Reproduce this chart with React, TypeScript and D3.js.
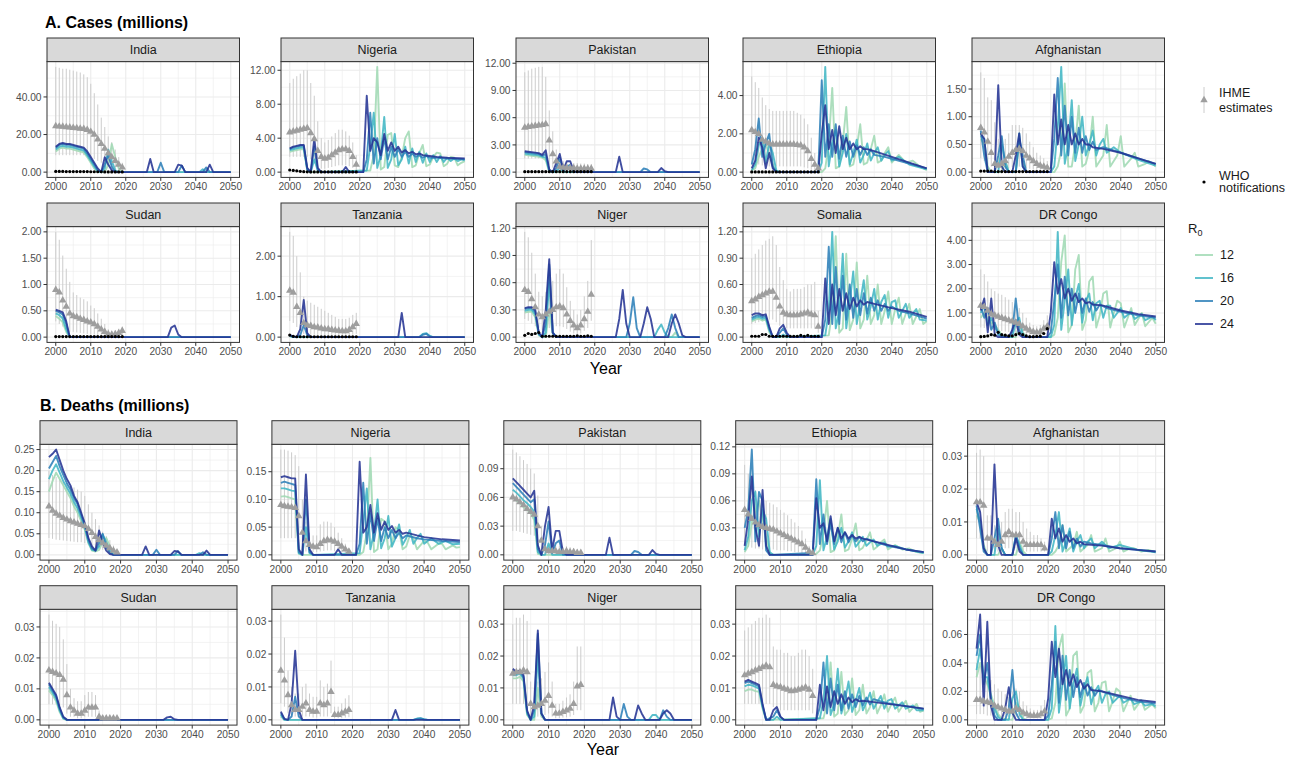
import React from 'react';
import * as d3 from 'd3';

type Pt = [number, number];
type Tri = [number, number, number];

const FONT = '"Liberation Sans", Arial, Helvetica, sans-serif';
const r0Labels = ['12', '16', '20', '24'];
const r0Colors = ['#a1dab4', '#41b6c4', '#2c7fb8', '#253494'];
const ihmeYears = [2000, 2001, 2002, 2003, 2004, 2005, 2006, 2007, 2008, 2009, 2010, 2011, 2012, 2013, 2014, 2015, 2016, 2017, 2018, 2019];
const xTicks = [2000, 2010, 2020, 2030, 2040, 2050];
const xMinor = [2005, 2015, 2025, 2035, 2045];

// ================= CASES (millions) =================
const indiaCasesTicks = [0, 20, 40];
const indiaCasesIHME: Tri[] = [[24.5,9,56],[24.3,9,55.5],[24.2,9,55],[24,9,55],[23.8,9,54.5],[23.6,9,54],[23.4,9,53.5],[23.2,9,53],[23,9,52],[22.5,8.5,50.5],[21.5,8,47],[20,7,42],[17.5,6,36],[15,5,29],[12.5,4,24],[10,3,19],[8,2.5,16],[6,1.5,12],[4,1,8],[2.5,0.5,5]];
const indiaCasesWHO = [0.4,0.4,0.4,0.3,0.3,0.3,0.3,0.3,0.3,0.3,0.2,0.2,0.2,0.2,0.1,0.1,0.1,0.1,0.1,0.1];
const indiaCasesR12: Pt[] = [[2000,11],[2001,12.5],[2002,13],[2003,12.5],[2004,12.5],[2005,12],[2006,11.5],[2007,11],[2008,10.5],[2009,8],[2010,5],[2011,2],[2012,0],[2014,0],[2015,4],[2016,15],[2017,8],[2018,2],[2019,0],[2050,0]];
const indiaCasesR16: Pt[] = [[2000,12],[2001,13.5],[2002,14],[2003,13.5],[2004,13.5],[2005,13],[2006,12.5],[2007,12],[2008,11.5],[2009,9],[2010,6],[2011,3],[2012,0.5],[2013,0],[2014,2],[2015,12],[2016,6],[2017,1],[2018,0],[2041,0],[2042,1.5],[2043,0],[2050,0]];
const indiaCasesR20: Pt[] = [[2000,13],[2001,14.5],[2002,15],[2003,14.5],[2004,14.5],[2005,14],[2006,13.5],[2007,13],[2008,12.5],[2009,10],[2010,7],[2011,4],[2012,1],[2013,0],[2014,4],[2015,9],[2016,3],[2017,0],[2029,0],[2030,5],[2031,0],[2035,0],[2036,3.5],[2037,0],[2042,0],[2043,2.5],[2044,0],[2050,0]];
const indiaCasesR24: Pt[] = [[2000,13.5],[2001,15],[2002,15.5],[2003,15],[2004,15],[2005,14.5],[2006,14],[2007,13.5],[2008,13],[2009,11],[2010,8],[2011,5],[2012,2],[2013,0],[2014,8],[2015,4],[2016,1],[2017,0],[2026,0],[2027,7],[2028,0],[2034,0],[2035,4],[2036,3.5],[2037,0],[2043,0],[2044,4],[2045,0],[2050,0]];

const nigeriaCasesTicks = [0, 4, 8, 12];
const nigeriaCasesIHME: Tri[] = [[4.7,1.8,10.5],[4.8,1.8,11],[4.9,1.8,11.3],[5.0,1.8,11.6],[5.1,1.8,12],[5.2,1.8,12],[4.6,1.5,10.5],[3.9,1,9],[2.5,0.6,6],[1.8,0.4,4],[1.6,0.4,3.5],[1.7,0.5,3.8],[2.0,0.6,4.2],[2.3,0.7,4.6],[2.6,0.8,5],[2.7,0.8,5],[2.7,0.8,4.8],[2.5,0.7,4.3],[1.8,0.5,3.5],[0.9,0.2,2]];
const nigeriaCasesWHO = [0.25,0.2,0.15,0.1,0.06,0.04,0.03,0.03,0.02,0.02,0.02,0.02,0.02,0.02,0.02,0.02,0.02,0.02,0.02,0.02];
const nigeriaCasesR12: Pt[] = [[2000,2.4],[2001,2.5],[2002,2.6],[2003,2.7],[2004,2.7],[2005,0.2],[2006,0],[2023,0.2],[2024,2],[2025,12.4],[2026,0.3],[2027,0.6],[2028,4.4],[2029,4.6],[2030,0.8],[2031,0.6],[2032,1.8],[2033,4],[2034,4.8],[2035,0.6],[2036,0.8],[2037,2.2],[2038,3.2],[2039,0.7],[2040,0.9],[2041,1.8],[2042,2.3],[2043,2.2],[2044,0.7],[2045,1.0],[2046,1.8],[2047,1.7],[2048,0.8],[2049,1.1],[2050,1.3]];
const nigeriaCasesR16: Pt[] = [[2000,2.6],[2001,2.7],[2002,2.8],[2003,2.9],[2004,2.9],[2005,0.3],[2006,0],[2007,1.5],[2008,0.2],[2009,0],[2022,0.2],[2023,3],[2024,7],[2025,0.5],[2026,2],[2027,6.5],[2028,0.5],[2029,1.5],[2030,4.5],[2031,0.8],[2032,1.5],[2033,3],[2034,1],[2035,2.8],[2036,1.2],[2037,2.4],[2038,1.1],[2039,2.2],[2040,1.2],[2041,2],[2042,1.2],[2043,1.9],[2044,1.2],[2045,1.7],[2046,1.3],[2047,1.6],[2048,1.3],[2049,1.5],[2050,1.4]];
const nigeriaCasesR20: Pt[] = [[2000,2.7],[2001,2.9],[2002,3.0],[2003,3.1],[2004,3.1],[2005,0.3],[2006,0],[2007,3],[2008,0.3],[2009,0],[2021,0],[2022,1.5],[2023,7],[2024,1],[2025,4],[2026,1.5],[2027,4],[2028,1.5],[2029,3],[2030,1.8],[2031,2.7],[2032,1.8],[2033,2.4],[2034,1.8],[2035,2.2],[2036,1.8],[2037,2.0],[2038,1.7],[2039,1.9],[2040,1.7],[2042,1.7],[2045,1.6],[2050,1.5]];
const nigeriaCasesR24: Pt[] = [[2000,2.8],[2001,3],[2002,3.1],[2003,3.2],[2004,3.2],[2005,0.5],[2006,0],[2007,4],[2008,0.5],[2009,0],[2015,0],[2016,0.6],[2017,0],[2021,0],[2022,9],[2023,2.5],[2024,4],[2025,3.5],[2026,2],[2027,4.5],[2028,2.5],[2029,3.5],[2030,2.5],[2031,3],[2032,2.3],[2033,2.6],[2034,2.2],[2035,2.4],[2036,2.1],[2037,2.2],[2038,2],[2040,1.9],[2042,1.8],[2045,1.7],[2050,1.6]];

const pakistanCasesTicks = [0, 3, 6, 9, 12];
const pakistanCasesIHME: Tri[] = [[4.9,1.5,11],[5.0,1.5,11.2],[5.05,1.5,11.4],[5.1,1.5,11.5],[5.15,1.5,11.6],[5.2,1.5,11.6],[5.3,1.3,10.5],[3.5,0.8,6.8],[2.0,0.5,4.5],[1.2,0.3,2.5],[0.6,0.15,1.5],[0.5,0.1,1.2],[0.5,0.1,1.1],[0.45,0.1,1.0],[0.45,0.1,1.0],[0.4,0.1,1.0],[0.4,0.1,0.95],[0.4,0.1,0.95],[0.4,0.1,0.9],[0.4,0.1,0.9]];
const pakistanCasesWHO = [0.05,0.05,0.05,0.05,0.05,0.05,0.05,0.05,0.05,0.05,0.05,0.05,0.05,0.05,0.05,0.05,0.05,0.05,0.05,0.05];
const pakistanCasesR12: Pt[] = [[2000,1.9],[2001,1.85],[2002,1.8],[2003,1.75],[2004,1.7],[2005,1.6],[2006,1.3],[2007,0],[2050,0]];
const pakistanCasesR16: Pt[] = [[2000,2.05],[2001,2],[2002,1.95],[2003,1.9],[2004,1.85],[2005,1.7],[2006,1.6],[2007,0.1],[2008,0],[2009,0],[2010,0.6],[2011,0],[2050,0]];
const pakistanCasesR20: Pt[] = [[2000,2.2],[2001,2.15],[2002,2.1],[2003,2.05],[2004,2.0],[2005,1.8],[2006,2],[2007,0.2],[2008,0],[2009,0.4],[2010,1.6],[2011,0.1],[2012,0.6],[2013,0.8],[2014,0],[2033,0],[2034,0.4],[2035,0.3],[2036,0],[2050,0]];
const pakistanCasesR24: Pt[] = [[2000,2.3],[2001,2.25],[2002,2.2],[2003,2.15],[2004,2.1],[2005,1.9],[2006,2.4],[2007,0.3],[2008,0],[2009,1],[2010,2],[2011,0.2],[2012,1.2],[2013,1.2],[2014,0.1],[2015,0],[2026,0],[2027,1.7],[2028,0],[2038,0],[2039,0.45],[2040,0.1],[2041,0],[2050,0]];

const ethiopiaCasesTicks = [0, 2, 4];
const ethiopiaCasesIHME: Tri[] = [[2.2,0.4,5.0],[2.1,0.4,4.7],[2.0,0.4,4.4],[1.7,0.35,3.9],[1.6,0.35,3.5],[1.5,0.3,3.3],[1.45,0.3,3.2],[1.45,0.3,3.2],[1.45,0.3,3.2],[1.45,0.3,3.2],[1.45,0.3,3.2],[1.45,0.3,3.2],[1.45,0.3,3.2],[1.42,0.3,3.1],[1.4,0.3,3.0],[1.3,0.25,2.8],[1.1,0.2,2.5],[0.7,0.12,1.8],[0.4,0.08,1.0],[0.2,0.04,0.6]];
const ethiopiaCasesWHO = [0.01,0.01,0.01,0.01,0.01,0.01,0.01,0.01,0.01,0.01,0.01,0.01,0.01,0.01,0.01,0.01,0.01,0.01,0.01,0.01];
const ethiopiaCasesR12: Pt[] = [[2000,0.1],[2001,0.2],[2002,0.8],[2003,1.2],[2004,1.5],[2005,0.9],[2006,0.4],[2007,0],[2020,0],[2021,0.2],[2022,1.5],[2023,4.4],[2024,0.2],[2025,0.3],[2026,1.5],[2027,3.4],[2028,0.3],[2029,0.4],[2030,1.3],[2031,2.5],[2032,0.4],[2033,0.5],[2034,1.2],[2035,1.9],[2036,0.5],[2037,0.6],[2038,1],[2039,1.3],[2040,0.5],[2042,0.9],[2044,0.5],[2046,0.6],[2048,0.3],[2050,0.1]];
const ethiopiaCasesR16: Pt[] = [[2000,0.1],[2001,0.4],[2002,1.4],[2003,1.7],[2004,0.5],[2005,1.5],[2006,1],[2007,0.1],[2008,0],[2019,0],[2020,0.5],[2021,5.5],[2022,0.3],[2023,1.5],[2024,2.2],[2025,0.3],[2026,1],[2027,2],[2028,0.4],[2029,1],[2030,1.7],[2031,0.5],[2032,0.9],[2033,1.5],[2034,0.6],[2035,1.0],[2036,1.3],[2037,0.6],[2038,0.9],[2039,1.1],[2040,0.6],[2042,0.8],[2045,0.4],[2050,0.15]];
const ethiopiaCasesR20: Pt[] = [[2000,0.4],[2001,1.2],[2002,2.8],[2003,0.8],[2004,1.5],[2005,2],[2006,0.3],[2007,0],[2019,0],[2020,4.8],[2021,0.8],[2022,2.5],[2023,0.8],[2024,2.5],[2025,0.7],[2026,1.9],[2027,0.8],[2028,1.6],[2029,0.8],[2030,1.4],[2031,0.9],[2032,1.3],[2033,0.9],[2034,1.2],[2035,0.9],[2038,0.8],[2040,0.7],[2045,0.45],[2050,0.2]];
const ethiopiaCasesR24: Pt[] = [[2000,0.2],[2001,0.6],[2002,1.8],[2003,1.3],[2004,0.2],[2005,1.0],[2006,0.2],[2007,0],[2019,0],[2020,2],[2021,3.5],[2022,1.2],[2023,2.2],[2024,1],[2025,2.4],[2026,1.2],[2027,1.8],[2028,1.2],[2029,1.5],[2030,1.2],[2031,1.35],[2032,1.2],[2033,1.2],[2035,1.1],[2040,0.8],[2045,0.5],[2050,0.2]];

const afghanistanCasesTicks = [0, 0.5, 1, 1.5];
const afghanistanCasesIHME: Tri[] = [[0.8,0.25,1.8],[0.72,0.2,1.7],[0.55,0.15,1.35],[0.35,0.1,1.3],[0.15,0.04,0.9],[0.12,0.03,0.6],[0.15,0.04,0.5],[0.2,0.05,0.6],[0.28,0.07,0.7],[0.35,0.09,0.85],[0.4,0.1,0.85],[0.42,0.1,0.85],[0.38,0.09,0.8],[0.3,0.07,0.7],[0.25,0.06,0.55],[0.2,0.05,0.45],[0.15,0.04,0.35],[0.12,0.03,0.3],[0.1,0.02,0.25],[0.08,0.02,0.2]];
const afghanistanCasesWHO = [0.02,0.02,0.02,0.02,0.01,0.01,0.01,0.01,0.01,0.01,0.01,0.01,0.01,0.01,0.01,0.01,0.01,0.01,0.01,0.01];
const afghanistanCasesR12: Pt[] = [[2000,0.6],[2001,0.5],[2002,0.1],[2003,0],[2006,0],[2007,0.2],[2008,0],[2010,0],[2011,0.5],[2012,0.2],[2013,0],[2021,0],[2022,0.1],[2023,0.4],[2024,1.6],[2025,0.1],[2026,0.1],[2027,0.5],[2028,1.2],[2029,0.1],[2030,0.15],[2031,0.4],[2032,1.0],[2033,0.1],[2035,0.3],[2036,0.85],[2037,0.1],[2039,0.3],[2040,0.65],[2041,0.1],[2043,0.25],[2044,0.35],[2045,0.1],[2047,0.15],[2048,0.2],[2050,0.1]];
const afghanistanCasesR16: Pt[] = [[2000,0.65],[2001,0.6],[2002,0],[2005,0],[2006,0.5],[2007,0.2],[2008,0],[2010,0],[2011,0.7],[2012,0.1],[2013,0],[2020,0],[2021,0.1],[2022,0.8],[2023,1.9],[2024,0.15],[2025,0.5],[2026,1.3],[2027,0.2],[2028,0.5],[2029,1],[2030,0.3],[2031,0.5],[2032,0.75],[2033,0.3],[2034,0.5],[2035,0.6],[2036,0.35],[2038,0.45],[2040,0.35],[2045,0.22],[2050,0.12]];
const afghanistanCasesR20: Pt[] = [[2000,0.75],[2001,0.3],[2002,0],[2004,0],[2005,0.3],[2006,0.65],[2007,0.1],[2008,0],[2010,0],[2011,0.6],[2012,0.3],[2013,0],[2020,0],[2021,0.6],[2022,1.7],[2023,0.3],[2024,1.2],[2025,0.3],[2026,1.0],[2027,0.35],[2028,0.8],[2029,0.35],[2030,0.65],[2031,0.4],[2032,0.55],[2033,0.4],[2035,0.45],[2040,0.35],[2045,0.25],[2050,0.15]];
const afghanistanCasesR24: Pt[] = [[2000,0.7],[2001,0.6],[2002,0],[2004,0],[2005,1.57],[2006,0.1],[2007,0],[2009,0],[2010,0.3],[2011,0.7],[2012,0.1],[2013,0],[2020,0],[2021,1.4],[2022,0.5],[2023,0.95],[2024,0.5],[2025,0.85],[2026,0.5],[2027,0.7],[2028,0.5],[2029,0.6],[2030,0.5],[2031,0.5],[2032,0.45],[2035,0.42],[2040,0.35],[2045,0.25],[2050,0.15]];

const sudanCasesTicks = [0, 0.5, 1, 1.5, 2];
const sudanCasesIHME: Tri[] = [[0.9,0.3,2.0],[0.85,0.25,1.85],[0.7,0.2,1.55],[0.58,0.15,1.3],[0.45,0.1,1.05],[0.4,0.1,0.85],[0.38,0.09,0.8],[0.35,0.08,0.75],[0.33,0.07,0.72],[0.3,0.06,0.68],[0.28,0.05,0.6],[0.25,0.05,0.55],[0.2,0.04,0.45],[0.15,0.03,0.35],[0.1,0.02,0.25],[0.06,0.01,0.15],[0.05,0.01,0.12],[0.06,0.01,0.13],[0.08,0.02,0.16],[0.12,0.03,0.2]];
const sudanCasesWHO = [0.01,0.01,0.01,0.01,0.01,0.01,0.01,0.01,0.01,0.01,0.01,0.01,0.01,0.01,0.01,0.01,0.01,0.01,0.01,0.01];
const sudanCasesR12: Pt[] = [[2000,0.4],[2001,0.35],[2002,0.28],[2003,0.1],[2004,0],[2050,0]];
const sudanCasesR16: Pt[] = [[2000,0.45],[2001,0.42],[2002,0.35],[2003,0.15],[2004,0],[2050,0]];
const sudanCasesR20: Pt[] = [[2000,0.5],[2001,0.47],[2002,0.43],[2003,0.25],[2004,0],[2050,0]];
const sudanCasesR24: Pt[] = [[2000,0.52],[2001,0.5],[2002,0.47],[2003,0.3],[2004,0],[2032,0],[2033,0.18],[2034,0.22],[2035,0.05],[2036,0],[2050,0]];

const tanzaniaCasesTicks = [0, 1, 2];
const tanzaniaCasesIHME: Tri[] = [[1.15,0.4,2.6],[1.1,0.35,2.5],[0.75,0.25,2.0],[0.6,0.15,1.6],[0.35,0.08,1.0],[0.3,0.07,0.9],[0.28,0.06,0.85],[0.25,0.06,0.8],[0.24,0.05,0.75],[0.22,0.05,0.7],[0.2,0.05,0.65],[0.2,0.05,0.6],[0.18,0.04,0.55],[0.17,0.04,0.5],[0.16,0.04,0.45],[0.15,0.04,0.45],[0.15,0.04,0.45],[0.18,0.05,0.48],[0.25,0.06,0.55],[0.33,0.08,0.6]];
const tanzaniaCasesWHO = [0.05,0.02,0.01,0.01,0.01,0.01,0.01,0.01,0.01,0.01,0.01,0.01,0.01,0.01,0.01,0.01,0.01,0.01,0.01,0.01];
const tanzaniaCasesR12: Pt[] = [[2000,0.02],[2001,0],[2050,0]];
const tanzaniaCasesR16: Pt[] = [[2000,0.03],[2001,0],[2037,0],[2038,0.08],[2039,0.1],[2040,0.03],[2041,0],[2050,0]];
const tanzaniaCasesR20: Pt[] = [[2000,0.04],[2001,0.01],[2002,0],[2003,0.05],[2004,0.3],[2005,0.05],[2006,0],[2037,0],[2038,0.06],[2039,0.08],[2040,0.02],[2041,0],[2050,0]];
const tanzaniaCasesR24: Pt[] = [[2000,0.05],[2001,0.02],[2002,0],[2003,0.2],[2004,0.92],[2005,0.1],[2006,0],[2031,0],[2032,0.6],[2033,0],[2050,0]];

const nigerCasesTicks = [0, 0.3, 0.6, 0.9, 1.2];
const nigerCasesIHME: Tri[] = [[0.52,0.2,1.16],[0.5,0.18,1.1],[0.42,0.15,0.93],[0.33,0.12,0.7],[0.25,0.1,0.5],[0.22,0.08,0.45],[0.25,0.1,0.5],[0.28,0.1,0.55],[0.3,0.11,0.62],[0.33,0.12,0.7],[0.34,0.12,0.75],[0.32,0.11,0.7],[0.25,0.09,0.55],[0.18,0.06,0.4],[0.13,0.04,0.3],[0.1,0.03,0.25],[0.13,0.04,0.3],[0.2,0.07,0.45],[0.28,0.1,0.62],[0.47,0.18,1.07]];
const nigerCasesWHO = [0.02,0.04,0.03,0.04,0.05,0.01,0.01,0.01,0.01,0.01,0.01,0.01,0.01,0.01,0.01,0.015,0.01,0.01,0.015,0.01];
const nigerCasesR12: Pt[] = [[2000,0.27],[2001,0.28],[2002,0.28],[2003,0.22],[2004,0.02],[2005,0],[2006,0],[2007,0.3],[2008,0.03],[2009,0],[2042,0],[2043,0.05],[2044,0],[2050,0]];
const nigerCasesR16: Pt[] = [[2000,0.29],[2001,0.3],[2002,0.3],[2003,0.25],[2004,0.03],[2005,0],[2006,0.05],[2007,0.6],[2008,0.05],[2009,0],[2037,0],[2038,0.08],[2039,0.14],[2040,0.05],[2041,0],[2050,0]];
const nigerCasesR20: Pt[] = [[2000,0.31],[2001,0.32],[2002,0.32],[2003,0.28],[2004,0.04],[2005,0],[2006,0.15],[2007,0.8],[2008,0.05],[2009,0],[2029,0],[2030,0.15],[2031,0.44],[2032,0.1],[2033,0],[2040,0],[2041,0.1],[2042,0.25],[2043,0.1],[2044,0],[2050,0]];
const nigerCasesR24: Pt[] = [[2000,0.32],[2001,0.33],[2002,0.33],[2003,0.3],[2004,0.05],[2005,0],[2006,0.3],[2007,0.86],[2008,0.05],[2009,0],[2026,0],[2027,0.2],[2028,0.52],[2029,0.15],[2030,0],[2033,0],[2034,0.15],[2035,0.33],[2036,0.2],[2037,0],[2041,0],[2042,0.15],[2043,0.25],[2044,0.15],[2045,0.02],[2046,0],[2050,0]];

const somaliaCasesTicks = [0, 0.3, 0.6, 0.9, 1.2];
const somaliaCasesIHME: Tri[] = [[0.41,0.15,0.9],[0.43,0.16,0.95],[0.46,0.17,1.0],[0.48,0.18,1.05],[0.5,0.19,1.1],[0.52,0.2,1.12],[0.52,0.2,1.15],[0.45,0.17,1.05],[0.35,0.13,0.8],[0.28,0.1,0.65],[0.26,0.1,0.55],[0.25,0.1,0.52],[0.25,0.1,0.55],[0.25,0.1,0.55],[0.26,0.1,0.55],[0.27,0.1,0.57],[0.28,0.1,0.6],[0.26,0.1,0.6],[0.25,0.1,0.63],[0.12,0.05,0.3]];
const somaliaCasesWHO = [0.01,0.01,0.01,0.03,0.03,0.01,0.01,0.01,0.01,0.01,0.01,0.01,0.01,0.01,0.02,0.01,0.02,0.01,0.01,0.01];
const somaliaCasesR12: Pt[] = [[2000,0.18],[2001,0.2],[2002,0.21],[2003,0.19],[2004,0.2],[2005,0.06],[2006,0],[2022,0.02],[2023,0.3],[2024,1.15],[2025,0.05],[2026,0.1],[2027,0.95],[2028,0.08],[2029,0.2],[2030,0.85],[2031,0.1],[2032,0.2],[2033,0.7],[2034,0.15],[2035,0.25],[2036,0.6],[2037,0.15],[2038,0.3],[2039,0.52],[2040,0.15],[2041,0.32],[2042,0.45],[2043,0.15],[2045,0.38],[2046,0.15],[2048,0.32],[2049,0.15],[2050,0.18]];
const somaliaCasesR16: Pt[] = [[2000,0.2],[2001,0.22],[2002,0.23],[2003,0.21],[2004,0.22],[2005,0.08],[2006,0],[2008,0],[2009,0.03],[2010,0],[2021,0.02],[2022,0.3],[2023,1.2],[2024,0.1],[2025,0.3],[2026,0.95],[2027,0.1],[2028,0.4],[2029,0.75],[2030,0.15],[2031,0.4],[2032,0.65],[2033,0.2],[2034,0.35],[2035,0.55],[2036,0.2],[2037,0.4],[2038,0.48],[2039,0.22],[2040,0.4],[2041,0.42],[2042,0.22],[2044,0.38],[2045,0.22],[2047,0.32],[2048,0.2],[2050,0.19]];
const somaliaCasesR20: Pt[] = [[2000,0.22],[2001,0.24],[2002,0.25],[2003,0.23],[2004,0.24],[2005,0.1],[2006,0],[2007,0],[2008,0.05],[2009,0.1],[2010,0.03],[2011,0],[2020,0],[2021,0.2],[2022,1.03],[2023,0.15],[2024,0.8],[2025,0.15],[2026,0.7],[2027,0.2],[2028,0.6],[2029,0.22],[2030,0.55],[2031,0.25],[2032,0.5],[2033,0.27],[2034,0.45],[2035,0.3],[2036,0.42],[2037,0.3],[2038,0.38],[2039,0.3],[2040,0.35],[2042,0.3],[2045,0.27],[2050,0.21]];
const somaliaCasesR24: Pt[] = [[2000,0.25],[2001,0.27],[2002,0.27],[2003,0.25],[2004,0.26],[2005,0.12],[2006,0],[2007,0],[2008,0.1],[2009,0.14],[2010,0.05],[2011,0],[2020,0],[2021,0.67],[2022,0.15],[2023,0.6],[2024,0.25],[2025,0.55],[2026,0.3],[2027,0.5],[2028,0.32],[2029,0.45],[2030,0.35],[2031,0.42],[2032,0.37],[2033,0.4],[2035,0.38],[2040,0.33],[2045,0.29],[2050,0.23]];

const drcCasesTicks = [0, 1, 2, 3, 4];
const drcCasesIHME: Tri[] = [[1.3,0.4,2.8],[1.25,0.38,2.6],[1.1,0.35,2.3],[0.95,0.3,2.0],[0.9,0.28,1.9],[0.85,0.26,1.8],[0.8,0.25,1.75],[0.75,0.23,1.65],[0.7,0.21,1.55],[0.65,0.2,1.45],[0.6,0.18,1.35],[0.55,0.16,1.2],[0.45,0.13,1.0],[0.35,0.1,0.8],[0.28,0.08,0.6],[0.22,0.06,0.5],[0.2,0.06,0.45],[0.22,0.06,0.5],[0.35,0.1,0.7],[0.45,0.13,0.9]];
const drcCasesWHO = [0.02,0.03,0.05,0.1,0.08,0.2,0.1,0.08,0.05,0.05,0.1,0.15,0.1,0.05,0.02,0.02,0.03,0.04,0.15,0.35];
const drcCasesR12: Pt[] = [[2000,0.8],[2001,1.0],[2002,0.7],[2003,0.6],[2004,0.5],[2005,0.3],[2006,0.1],[2007,0],[2010,0],[2011,0.5],[2012,0.2],[2013,0],[2020,0],[2021,0.1],[2022,0.8],[2023,3.1],[2024,4.2],[2025,0.2],[2026,0.5],[2027,2.8],[2028,3.4],[2029,0.3],[2030,0.7],[2031,2.3],[2032,2.5],[2033,0.4],[2034,0.9],[2035,1.8],[2036,1.9],[2037,0.4],[2038,1.0],[2039,1.5],[2040,1.4],[2041,0.4],[2043,1.2],[2044,0.5],[2046,1.0],[2047,0.45],[2049,0.8],[2050,0.55]];
const drcCasesR16: Pt[] = [[2000,1.0],[2001,1.3],[2002,0.5],[2003,0.8],[2004,0.4],[2005,0.2],[2006,0.05],[2007,0],[2009,0],[2010,0.6],[2011,0.8],[2012,0.1],[2013,0],[2020,0],[2021,0.5],[2022,4.35],[2023,0.3],[2024,1.5],[2025,2.8],[2026,0.5],[2027,1.6],[2028,2.2],[2029,0.6],[2030,1.5],[2031,1.8],[2032,0.7],[2033,1.4],[2034,1.5],[2035,0.8],[2036,1.3],[2037,1.3],[2038,0.8],[2040,1.2],[2041,0.8],[2043,1.05],[2044,0.75],[2046,0.95],[2047,0.7],[2049,0.85],[2050,0.7]];
const drcCasesR20: Pt[] = [[2000,1.3],[2001,0.8],[2002,1.2],[2003,0.3],[2004,0.6],[2005,0.1],[2006,0],[2008,0],[2009,0.2],[2010,1.6],[2011,0.3],[2012,0],[2019,0],[2020,0.2],[2021,1.5],[2022,3.0],[2023,0.8],[2024,2.5],[2025,0.9],[2026,2.0],[2027,1.0],[2028,1.8],[2029,1.0],[2030,1.6],[2031,1.05],[2032,1.45],[2033,1.1],[2034,1.35],[2036,1.2],[2040,1.05],[2045,0.9],[2050,0.8]];
const drcCasesR24: Pt[] = [[2000,1.1],[2001,1.6],[2002,0.2],[2003,1.6],[2004,0.1],[2005,0],[2008,0],[2009,0.3],[2010,0.7],[2011,0.1],[2012,0],[2019,0],[2020,1],[2021,3.1],[2022,1.8],[2023,2.4],[2024,1.6],[2025,2],[2026,1.5],[2027,1.8],[2028,1.45],[2029,1.6],[2030,1.4],[2031,1.45],[2032,1.35],[2035,1.3],[2040,1.1],[2045,0.95],[2050,0.85]];

// ================= DEATHS (millions) =================
const indiaDeathsTicks = [0, 0.05, 0.1, 0.15, 0.2, 0.25];
const indiaDeathsIHME: Tri[] = [[0.115,0.04,0.2],[0.105,0.038,0.19],[0.098,0.036,0.185],[0.093,0.035,0.18],[0.088,0.034,0.175],[0.084,0.033,0.17],[0.08,0.032,0.165],[0.077,0.031,0.16],[0.074,0.03,0.155],[0.071,0.03,0.15],[0.068,0.028,0.14],[0.062,0.025,0.12],[0.052,0.02,0.1],[0.043,0.017,0.085],[0.035,0.014,0.07],[0.028,0.012,0.055],[0.022,0.009,0.045],[0.016,0.006,0.035],[0.01,0.004,0.022],[0.006,0.002,0.013]];
const indiaDeathsR12: Pt[] = [[2000,0.15],[2001,0.175],[2002,0.195],[2003,0.18],[2004,0.165],[2005,0.15],[2006,0.135],[2007,0.115],[2008,0.1],[2009,0.08],[2010,0.06],[2011,0.028],[2012,0.01],[2013,0.008],[2014,0.012],[2015,0.03],[2016,0.04],[2017,0.02],[2018,0.005],[2019,0],[2050,0]];
const indiaDeathsR16: Pt[] = [[2000,0.18],[2001,0.2],[2002,0.215],[2003,0.195],[2004,0.175],[2005,0.16],[2006,0.145],[2007,0.125],[2008,0.11],[2009,0.088],[2010,0.065],[2011,0.03],[2012,0.012],[2013,0.01],[2014,0.02],[2015,0.048],[2016,0.03],[2017,0.01],[2018,0],[2041,0],[2042,0.004],[2043,0],[2050,0]];
const indiaDeathsR20: Pt[] = [[2000,0.205],[2001,0.22],[2002,0.235],[2003,0.21],[2004,0.19],[2005,0.17],[2006,0.155],[2007,0.135],[2008,0.12],[2009,0.095],[2010,0.07],[2011,0.035],[2012,0.015],[2013,0.01],[2014,0.03],[2015,0.05],[2016,0.02],[2017,0.005],[2018,0],[2029,0],[2030,0.012],[2031,0],[2035,0],[2036,0.009],[2037,0],[2042,0],[2043,0.006],[2044,0],[2050,0]];
const indiaDeathsR24: Pt[] = [[2000,0.232],[2001,0.24],[2002,0.25],[2003,0.225],[2004,0.2],[2005,0.18],[2006,0.165],[2007,0.14],[2008,0.125],[2009,0.1],[2010,0.075],[2011,0.04],[2012,0.02],[2013,0.01],[2014,0.058],[2015,0.03],[2016,0.01],[2017,0.002],[2018,0],[2026,0],[2027,0.02],[2028,0],[2034,0],[2035,0.009],[2036,0.008],[2037,0],[2043,0],[2044,0.01],[2045,0],[2050,0]];

const nigeriaDeathsTicks = [0, 0.05, 0.1, 0.15];
const nigeriaDeathsIHME: Tri[] = [[0.09,0.03,0.19],[0.088,0.03,0.19],[0.087,0.03,0.188],[0.086,0.03,0.185],[0.085,0.03,0.18],[0.07,0.02,0.16],[0.04,0.01,0.1],[0.025,0.006,0.06],[0.018,0.005,0.04],[0.015,0.005,0.035],[0.014,0.005,0.035],[0.02,0.006,0.055],[0.025,0.007,0.06],[0.027,0.008,0.06],[0.026,0.008,0.058],[0.024,0.007,0.05],[0.02,0.006,0.04],[0.015,0.005,0.03],[0.01,0.003,0.02],[0.006,0.002,0.012]];
const nigeriaDeathsR12: Pt[] = [[2000,0.105],[2001,0.106],[2002,0.104],[2003,0.102],[2004,0.1],[2005,0.002],[2006,0],[2022,0],[2023,0.005],[2024,0.04],[2025,0.175],[2026,0.005],[2027,0.01],[2028,0.065],[2029,0.06],[2030,0.01],[2031,0.02],[2032,0.05],[2033,0.045],[2034,0.01],[2035,0.015],[2036,0.035],[2037,0.03],[2038,0.01],[2040,0.025],[2041,0.022],[2042,0.01],[2044,0.02],[2045,0.02],[2046,0.01],[2048,0.017],[2049,0.013],[2050,0.014]];
const nigeriaDeathsR16: Pt[] = [[2000,0.12],[2001,0.12],[2002,0.118],[2003,0.116],[2004,0.115],[2005,0.003],[2006,0],[2007,0.05],[2008,0.003],[2009,0],[2022,0.003],[2023,0.06],[2024,0.12],[2025,0.01],[2026,0.04],[2027,0.1],[2028,0.012],[2029,0.03],[2030,0.07],[2031,0.015],[2032,0.03],[2033,0.055],[2034,0.018],[2035,0.03],[2036,0.045],[2037,0.02],[2038,0.03],[2039,0.038],[2040,0.02],[2042,0.03],[2044,0.02],[2046,0.025],[2048,0.019],[2050,0.02]];
const nigeriaDeathsR20: Pt[] = [[2000,0.13],[2001,0.132],[2002,0.13],[2003,0.128],[2004,0.126],[2005,0.005],[2006,0],[2007,0.1],[2008,0.005],[2009,0],[2021,0],[2022,0.02],[2023,0.13],[2024,0.02],[2025,0.075],[2026,0.025],[2027,0.065],[2028,0.025],[2029,0.05],[2030,0.03],[2031,0.045],[2032,0.03],[2033,0.04],[2034,0.03],[2035,0.035],[2038,0.03],[2040,0.028],[2045,0.025],[2050,0.023]];
const nigeriaDeathsR24: Pt[] = [[2000,0.14],[2001,0.142],[2002,0.14],[2003,0.138],[2004,0.138],[2005,0.01],[2006,0],[2007,0.145],[2008,0.01],[2009,0],[2015,0],[2016,0.01],[2017,0],[2021,0],[2022,0.168],[2023,0.04],[2024,0.05],[2025,0.09],[2026,0.04],[2027,0.075],[2028,0.045],[2029,0.06],[2030,0.045],[2031,0.052],[2032,0.04],[2033,0.045],[2034,0.038],[2035,0.04],[2038,0.035],[2040,0.032],[2045,0.028],[2050,0.026]];

const pakistanDeathsTicks = [0, 0.03, 0.06, 0.09];
const pakistanDeathsIHME: Tri[] = [[0.06,0.025,0.11],[0.058,0.025,0.107],[0.055,0.024,0.103],[0.052,0.023,0.099],[0.048,0.022,0.095],[0.045,0.021,0.09],[0.042,0.02,0.085],[0.03,0.012,0.062],[0.015,0.005,0.03],[0.006,0.002,0.014],[0.004,0.001,0.01],[0.004,0.001,0.01],[0.004,0.001,0.01],[0.003,0.001,0.009],[0.003,0.001,0.008],[0.004,0.001,0.009],[0.003,0.001,0.008],[0.003,0.001,0.007],[0.002,0.001,0.006],[0.002,0.001,0.005]];
const pakistanDeathsR12: Pt[] = [[2000,0.06],[2001,0.057],[2002,0.054],[2003,0.05],[2004,0.047],[2005,0.044],[2006,0.036],[2007,0.001],[2008,0],[2050,0]];
const pakistanDeathsR16: Pt[] = [[2000,0.068],[2001,0.065],[2002,0.061],[2003,0.057],[2004,0.054],[2005,0.05],[2006,0.045],[2007,0.003],[2008,0],[2009,0],[2010,0.012],[2011,0],[2050,0]];
const pakistanDeathsR20: Pt[] = [[2000,0.075],[2001,0.071],[2002,0.067],[2003,0.063],[2004,0.059],[2005,0.055],[2006,0.058],[2007,0.006],[2008,0],[2009,0.01],[2010,0.035],[2011,0.002],[2012,0.012],[2013,0.015],[2014,0],[2033,0],[2034,0.004],[2035,0.003],[2036,0],[2050,0]];
const pakistanDeathsR24: Pt[] = [[2000,0.08],[2001,0.076],[2002,0.072],[2003,0.068],[2004,0.064],[2005,0.06],[2006,0.067],[2007,0.01],[2008,0],[2009,0.03],[2010,0.05],[2011,0.005],[2012,0.025],[2013,0.025],[2014,0.003],[2015,0],[2026,0],[2027,0.018],[2028,0],[2038,0],[2039,0.005],[2040,0.001],[2041,0],[2050,0]];

const ethiopiaDeathsTicks = [0, 0.03, 0.06, 0.09, 0.12];
const ethiopiaDeathsIHME: Tri[] = [[0.05,0.01,0.1],[0.045,0.009,0.09],[0.04,0.008,0.082],[0.036,0.007,0.072],[0.033,0.007,0.065],[0.031,0.006,0.062],[0.03,0.006,0.06],[0.029,0.006,0.058],[0.028,0.006,0.056],[0.026,0.005,0.053],[0.024,0.005,0.05],[0.022,0.005,0.047],[0.02,0.004,0.044],[0.018,0.004,0.04],[0.016,0.003,0.036],[0.014,0.003,0.032],[0.012,0.002,0.027],[0.008,0.002,0.018],[0.004,0.001,0.01],[0.002,0.001,0.005]];
const ethiopiaDeathsR12: Pt[] = [[2000,0.003],[2001,0.01],[2002,0.035],[2003,0.05],[2004,0.06],[2005,0.04],[2006,0.02],[2007,0.002],[2008,0],[2020,0.001],[2021,0.005],[2022,0.025],[2023,0.06],[2024,0.003],[2025,0.005],[2026,0.02],[2027,0.045],[2028,0.004],[2029,0.006],[2030,0.018],[2031,0.035],[2032,0.005],[2033,0.008],[2034,0.016],[2035,0.025],[2036,0.006],[2037,0.009],[2038,0.014],[2039,0.017],[2040,0.006],[2042,0.011],[2044,0.006],[2046,0.007],[2048,0.003],[2050,0.002]];
const ethiopiaDeathsR16: Pt[] = [[2000,0.005],[2001,0.02],[2002,0.06],[2003,0.07],[2004,0.02],[2005,0.05],[2006,0.04],[2007,0.003],[2008,0],[2019,0],[2020,0.01],[2021,0.083],[2022,0.005],[2023,0.02],[2024,0.04],[2025,0.006],[2026,0.015],[2027,0.03],[2028,0.008],[2029,0.015],[2030,0.025],[2031,0.009],[2032,0.014],[2033,0.02],[2034,0.01],[2035,0.014],[2036,0.017],[2037,0.01],[2039,0.014],[2040,0.009],[2042,0.01],[2045,0.006],[2050,0.002]];
const ethiopiaDeathsR20: Pt[] = [[2000,0.03],[2001,0.05],[2002,0.117],[2003,0.015],[2004,0.07],[2005,0.06],[2006,0.005],[2007,0],[2019,0.002],[2020,0.084],[2021,0.012],[2022,0.045],[2023,0.012],[2024,0.035],[2025,0.012],[2026,0.03],[2027,0.014],[2028,0.025],[2029,0.014],[2030,0.022],[2031,0.015],[2032,0.02],[2033,0.015],[2034,0.018],[2036,0.015],[2040,0.01],[2045,0.006],[2050,0.003]];
const ethiopiaDeathsR24: Pt[] = [[2000,0.01],[2001,0.04],[2002,0.087],[2003,0.03],[2004,0.01],[2005,0.072],[2006,0.01],[2007,0],[2019,0],[2020,0.063],[2021,0.03],[2022,0.035],[2023,0.015],[2024,0.043],[2025,0.015],[2026,0.03],[2027,0.018],[2028,0.025],[2029,0.018],[2030,0.022],[2031,0.018],[2032,0.02],[2033,0.018],[2035,0.016],[2040,0.011],[2045,0.006],[2050,0.003]];

const afghanistanDeathsTicks = [0, 0.01, 0.02, 0.03];
const afghanistanDeathsIHME: Tri[] = [[0.016,0.005,0.031],[0.016,0.005,0.032],[0.015,0.005,0.03],[0.005,0.001,0.012],[0.005,0.001,0.012],[0.004,0.001,0.009],[0.003,0.001,0.009],[0.004,0.001,0.01],[0.006,0.002,0.013],[0.007,0.002,0.014],[0.006,0.002,0.014],[0.006,0.002,0.013],[0.006,0.002,0.013],[0.004,0.001,0.01],[0.003,0.001,0.008],[0.003,0.001,0.007],[0.003,0.001,0.006],[0.003,0.001,0.006],[0.003,0.001,0.005],[0.002,0.001,0.004]];
const afghanistanDeathsR12: Pt[] = [[2000,0.012],[2001,0.01],[2002,0.003],[2003,0],[2006,0],[2007,0.002],[2008,0],[2011,0],[2012,0.004],[2013,0.001],[2014,0],[2021,0],[2022,0.001],[2023,0.003],[2024,0.009],[2025,0.001],[2027,0.003],[2028,0.007],[2029,0.001],[2031,0.003],[2032,0.006],[2033,0.001],[2035,0.002],[2036,0.005],[2037,0.001],[2039,0.002],[2040,0.004],[2041,0.001],[2043,0.002],[2044,0.002],[2046,0.001],[2048,0.0015],[2050,0.0008]];
const afghanistanDeathsR16: Pt[] = [[2000,0.014],[2001,0.01],[2002,0.002],[2003,0],[2005,0],[2006,0.008],[2007,0.002],[2008,0],[2010,0],[2011,0.006],[2012,0.003],[2013,0],[2020,0],[2021,0.001],[2022,0.006],[2023,0.013],[2024,0.001],[2025,0.004],[2026,0.008],[2027,0.001],[2028,0.004],[2029,0.006],[2030,0.002],[2031,0.004],[2032,0.005],[2033,0.002],[2035,0.004],[2037,0.002],[2040,0.003],[2045,0.0015],[2050,0.0008]];
const afghanistanDeathsR20: Pt[] = [[2000,0.015],[2001,0.008],[2002,0.001],[2003,0],[2004,0],[2005,0.005],[2006,0.011],[2007,0.002],[2008,0],[2010,0],[2011,0.006],[2012,0.002],[2013,0],[2020,0],[2021,0.005],[2022,0.013],[2023,0.002],[2024,0.009],[2025,0.002],[2026,0.007],[2027,0.002],[2028,0.005],[2029,0.0025],[2030,0.004],[2032,0.0035],[2035,0.003],[2040,0.002],[2045,0.0015],[2050,0.001]];
const afghanistanDeathsR24: Pt[] = [[2000,0.016],[2001,0.013],[2002,0.002],[2003,0],[2004,0],[2005,0.0275],[2006,0.003],[2007,0],[2010,0],[2011,0.005],[2012,0.001],[2013,0],[2020,0],[2021,0.011],[2022,0.005],[2023,0.008],[2024,0.004],[2025,0.006],[2026,0.004],[2027,0.005],[2028,0.0035],[2029,0.004],[2030,0.0032],[2035,0.0028],[2040,0.002],[2045,0.0015],[2050,0.001]];

const sudanDeathsTicks = [0, 0.01, 0.02, 0.03];
const sudanDeathsIHME: Tri[] = [[0.016,0.005,0.034],[0.0155,0.005,0.032],[0.015,0.005,0.031],[0.0145,0.004,0.03],[0.013,0.004,0.026],[0.008,0.002,0.018],[0.004,0.001,0.01],[0.003,0.001,0.007],[0.002,0.0005,0.006],[0.002,0.0005,0.006],[0.003,0.001,0.008],[0.004,0.001,0.009],[0.004,0.001,0.009],[0.004,0.001,0.008],[0.001,0.0003,0.003],[0.0005,0.0002,0.0015],[0.0005,0.0002,0.0015],[0.0005,0.0002,0.0012],[0.0005,0.0002,0.0012],[0.0005,0.0002,0.001]];
const sudanDeathsR12: Pt[] = [[2000,0.0095],[2001,0.008],[2002,0.006],[2003,0.0025],[2004,0.0003],[2005,0],[2050,0]];
const sudanDeathsR16: Pt[] = [[2000,0.0105],[2001,0.0088],[2002,0.0068],[2003,0.003],[2004,0.0005],[2005,0],[2050,0]];
const sudanDeathsR20: Pt[] = [[2000,0.0115],[2001,0.0095],[2002,0.0075],[2003,0.0035],[2004,0.0008],[2005,0],[2050,0]];
const sudanDeathsR24: Pt[] = [[2000,0.012],[2001,0.01],[2002,0.008],[2003,0.004],[2004,0.001],[2005,0],[2032,0],[2033,0.0008],[2034,0.001],[2035,0.0002],[2036,0],[2050,0]];

const tanzaniaDeathsTicks = [0, 0.01, 0.02, 0.03];
const tanzaniaDeathsIHME: Tri[] = [[0.015,0.005,0.032],[0.012,0.004,0.025],[0.0075,0.002,0.015],[0.0045,0.001,0.01],[0.003,0.001,0.008],[0.003,0.001,0.008],[0.004,0.001,0.01],[0.005,0.001,0.011],[0.003,0.001,0.008],[0.0025,0.0007,0.007],[0.0025,0.0007,0.007],[0.005,0.001,0.012],[0.0045,0.001,0.01],[0.005,0.001,0.011],[0.0085,0.002,0.018],[0.0015,0.0005,0.004],[0.0015,0.0005,0.004],[0.002,0.0005,0.005],[0.0025,0.0007,0.0065],[0.003,0.0008,0.0075]];
const tanzaniaDeathsR12: Pt[] = [[2000,0.001],[2001,0],[2050,0]];
const tanzaniaDeathsR16: Pt[] = [[2000,0.0015],[2001,0],[2037,0],[2038,0.0004],[2039,0.0005],[2040,0.0002],[2041,0],[2050,0]];
const tanzaniaDeathsR20: Pt[] = [[2000,0.002],[2001,0.0002],[2002,0],[2003,0.001],[2004,0.007],[2005,0.001],[2006,0],[2037,0],[2038,0.0003],[2039,0.0004],[2040,0.0001],[2041,0],[2050,0]];
const tanzaniaDeathsR24: Pt[] = [[2000,0.0025],[2001,0.0003],[2002,0],[2003,0.005],[2004,0.021],[2005,0.003],[2006,0],[2031,0],[2032,0.003],[2033,0],[2050,0]];

const nigerDeathsTicks = [0, 0.01, 0.02, 0.03];
const nigerDeathsIHME: Tri[] = [[0.0145,0.005,0.03],[0.015,0.005,0.032],[0.015,0.005,0.032],[0.0155,0.005,0.033],[0.015,0.005,0.031],[0.005,0.001,0.012],[0.004,0.001,0.01],[0.0045,0.001,0.012],[0.005,0.0015,0.013],[0.006,0.0015,0.015],[0.0075,0.002,0.018],[0.0045,0.001,0.012],[0.002,0.0005,0.005],[0.002,0.0005,0.005],[0.0025,0.0007,0.006],[0.003,0.0008,0.007],[0.0035,0.001,0.008],[0.005,0.0015,0.012],[0.0105,0.003,0.023],[0.011,0.003,0.023]];
const nigerDeathsR12: Pt[] = [[2000,0.013],[2001,0.013],[2002,0.0135],[2003,0.012],[2004,0.0015],[2005,0],[2006,0],[2007,0.01],[2008,0.001],[2009,0],[2050,0]];
const nigerDeathsR16: Pt[] = [[2000,0.014],[2001,0.014],[2002,0.0145],[2003,0.013],[2004,0.002],[2005,0],[2006,0.001],[2007,0.02],[2008,0.002],[2009,0],[2038,0],[2039,0.0015],[2040,0.0015],[2041,0],[2050,0]];
const nigerDeathsR20: Pt[] = [[2000,0.0155],[2001,0.0145],[2002,0.015],[2003,0.0135],[2004,0.0025],[2005,0],[2006,0.003],[2007,0.027],[2008,0.002],[2009,0],[2030,0],[2031,0.005],[2032,0.001],[2033,0],[2041,0],[2042,0.003],[2043,0.001],[2044,0],[2050,0]];
const nigerDeathsR24: Pt[] = [[2000,0.016],[2001,0.015],[2002,0.0155],[2003,0.014],[2004,0.003],[2005,0],[2006,0.005],[2007,0.028],[2008,0.002],[2009,0],[2027,0],[2028,0.007],[2029,0.001],[2030,0],[2034,0],[2035,0.0045],[2036,0.002],[2037,0],[2041,0],[2042,0.002],[2043,0.003],[2044,0.002],[2045,0],[2050,0]];

const somaliaDeathsTicks = [0, 0.01, 0.02, 0.03];
const somaliaDeathsIHME: Tri[] = [[0.014,0.005,0.028],[0.0145,0.005,0.029],[0.015,0.005,0.03],[0.0155,0.005,0.031],[0.016,0.005,0.032],[0.0165,0.005,0.032],[0.017,0.005,0.033],[0.0165,0.005,0.032],[0.011,0.004,0.023],[0.0105,0.003,0.022],[0.0103,0.003,0.022],[0.0098,0.003,0.021],[0.0095,0.003,0.021],[0.009,0.003,0.02],[0.0092,0.003,0.02],[0.0095,0.003,0.021],[0.0098,0.003,0.022],[0.0102,0.003,0.022],[0.0095,0.003,0.02],[0.0075,0.002,0.016]];
const somaliaDeathsR12: Pt[] = [[2000,0.009],[2001,0.0095],[2002,0.0095],[2003,0.009],[2004,0.0088],[2005,0.0035],[2006,0],[2022,0.0005],[2023,0.005],[2024,0.018],[2025,0.001],[2026,0.002],[2027,0.015],[2028,0.0015],[2029,0.003],[2030,0.013],[2031,0.0015],[2032,0.003],[2033,0.011],[2034,0.002],[2035,0.004],[2036,0.009],[2037,0.002],[2038,0.0045],[2039,0.008],[2040,0.0025],[2041,0.005],[2042,0.007],[2043,0.0025],[2045,0.006],[2046,0.0025],[2048,0.005],[2049,0.0025],[2050,0.003]];
const somaliaDeathsR16: Pt[] = [[2000,0.0105],[2001,0.011],[2002,0.0108],[2003,0.0103],[2004,0.0098],[2005,0.004],[2006,0],[2008,0],[2009,0.001],[2010,0],[2021,0.0005],[2022,0.006],[2023,0.02],[2024,0.0015],[2025,0.005],[2026,0.016],[2027,0.002],[2028,0.006],[2029,0.012],[2030,0.0025],[2031,0.006],[2032,0.01],[2033,0.003],[2034,0.0055],[2035,0.0085],[2036,0.0035],[2037,0.0055],[2038,0.0075],[2039,0.0035],[2040,0.006],[2041,0.0065],[2042,0.0035],[2044,0.0055],[2045,0.0035],[2047,0.0045],[2048,0.003],[2050,0.003]];
const somaliaDeathsR20: Pt[] = [[2000,0.0115],[2001,0.012],[2002,0.0115],[2003,0.011],[2004,0.0105],[2005,0.0045],[2006,0],[2008,0.001],[2009,0.003],[2010,0.0008],[2011,0],[2020,0],[2021,0.004],[2022,0.018],[2023,0.002],[2024,0.013],[2025,0.003],[2026,0.011],[2027,0.003],[2028,0.009],[2029,0.0035],[2030,0.008],[2031,0.004],[2032,0.0075],[2033,0.0045],[2034,0.007],[2035,0.0048],[2036,0.0065],[2038,0.0058],[2040,0.0052],[2045,0.0043],[2050,0.0034]];
const somaliaDeathsR24: Pt[] = [[2000,0.012],[2001,0.0125],[2002,0.012],[2003,0.0115],[2004,0.011],[2005,0.005],[2006,0],[2007,0],[2008,0.003],[2009,0.004],[2010,0.001],[2011,0],[2020,0],[2021,0.011],[2022,0.003],[2023,0.0105],[2024,0.004],[2025,0.009],[2026,0.005],[2027,0.008],[2028,0.005],[2029,0.007],[2030,0.0055],[2031,0.0065],[2032,0.0058],[2033,0.006],[2035,0.0057],[2040,0.005],[2045,0.0043],[2050,0.0035]];

const drcDeathsTicks = [0, 0.02, 0.04, 0.06];
const drcDeathsIHME: Tri[] = [[0.014,0.004,0.04],[0.014,0.004,0.038],[0.013,0.004,0.035],[0.0125,0.003,0.03],[0.012,0.003,0.028],[0.01,0.003,0.025],[0.009,0.002,0.022],[0.008,0.002,0.02],[0.007,0.002,0.018],[0.006,0.002,0.016],[0.006,0.002,0.02],[0.008,0.002,0.022],[0.007,0.002,0.02],[0.005,0.001,0.013],[0.004,0.001,0.01],[0.003,0.001,0.008],[0.003,0.001,0.007],[0.003,0.001,0.007],[0.004,0.001,0.01],[0.006,0.002,0.014]];
const drcDeathsR12: Pt[] = [[2000,0.03],[2001,0.04],[2002,0.03],[2003,0.025],[2004,0.018],[2005,0.01],[2006,0.004],[2007,0.001],[2010,0],[2011,0.012],[2012,0.008],[2013,0.001],[2014,0],[2020,0],[2021,0.001],[2022,0.012],[2023,0.05],[2024,0.06],[2025,0.003],[2026,0.008],[2027,0.045],[2028,0.048],[2029,0.005],[2030,0.01],[2031,0.033],[2032,0.035],[2033,0.006],[2034,0.012],[2035,0.026],[2036,0.027],[2037,0.006],[2038,0.013],[2039,0.022],[2040,0.02],[2041,0.006],[2043,0.017],[2044,0.007],[2046,0.014],[2047,0.007],[2049,0.011],[2050,0.008]];
const drcDeathsR16: Pt[] = [[2000,0.035],[2001,0.05],[2002,0.03],[2003,0.03],[2004,0.015],[2005,0.008],[2006,0.002],[2007,0],[2009,0],[2010,0.015],[2011,0.02],[2012,0.004],[2013,0],[2020,0],[2021,0.008],[2022,0.066],[2023,0.005],[2024,0.025],[2025,0.045],[2026,0.008],[2027,0.025],[2028,0.036],[2029,0.01],[2030,0.022],[2031,0.03],[2032,0.011],[2033,0.02],[2034,0.024],[2035,0.012],[2036,0.018],[2037,0.02],[2038,0.012],[2040,0.017],[2041,0.012],[2043,0.015],[2044,0.011],[2046,0.013],[2047,0.01],[2049,0.011],[2050,0.0095]];
const drcDeathsR20: Pt[] = [[2000,0.045],[2001,0.06],[2002,0.025],[2003,0.04],[2004,0.015],[2005,0.003],[2006,0],[2008,0],[2009,0.008],[2010,0.035],[2011,0.005],[2012,0],[2019,0],[2020,0.003],[2021,0.025],[2022,0.055],[2023,0.012],[2024,0.045],[2025,0.014],[2026,0.035],[2027,0.016],[2028,0.03],[2029,0.016],[2030,0.026],[2031,0.017],[2032,0.023],[2033,0.017],[2034,0.021],[2036,0.019],[2040,0.016],[2045,0.013],[2050,0.0115]];
const drcDeathsR24: Pt[] = [[2000,0.05],[2001,0.074],[2002,0.01],[2003,0.069],[2004,0.01],[2005,0],[2007,0],[2008,0.008],[2009,0.023],[2010,0.005],[2011,0],[2019,0],[2020,0.015],[2021,0.055],[2022,0.03],[2023,0.05],[2024,0.025],[2025,0.035],[2026,0.024],[2027,0.032],[2028,0.023],[2029,0.028],[2030,0.022],[2031,0.025],[2032,0.021],[2035,0.02],[2040,0.017],[2045,0.014],[2050,0.0125]];

interface PanelData {
  name: string;
  ticks: number[];
  ihme: Tri[];
  who: number[] | null;
  series: Pt[][];
}

const casesPanels: PanelData[] = [
  { name: 'India', ticks: indiaCasesTicks, ihme: indiaCasesIHME, who: indiaCasesWHO, series: [indiaCasesR12, indiaCasesR16, indiaCasesR20, indiaCasesR24] },
  { name: 'Nigeria', ticks: nigeriaCasesTicks, ihme: nigeriaCasesIHME, who: nigeriaCasesWHO, series: [nigeriaCasesR12, nigeriaCasesR16, nigeriaCasesR20, nigeriaCasesR24] },
  { name: 'Pakistan', ticks: pakistanCasesTicks, ihme: pakistanCasesIHME, who: pakistanCasesWHO, series: [pakistanCasesR12, pakistanCasesR16, pakistanCasesR20, pakistanCasesR24] },
  { name: 'Ethiopia', ticks: ethiopiaCasesTicks, ihme: ethiopiaCasesIHME, who: ethiopiaCasesWHO, series: [ethiopiaCasesR12, ethiopiaCasesR16, ethiopiaCasesR20, ethiopiaCasesR24] },
  { name: 'Afghanistan', ticks: afghanistanCasesTicks, ihme: afghanistanCasesIHME, who: afghanistanCasesWHO, series: [afghanistanCasesR12, afghanistanCasesR16, afghanistanCasesR20, afghanistanCasesR24] },
  { name: 'Sudan', ticks: sudanCasesTicks, ihme: sudanCasesIHME, who: sudanCasesWHO, series: [sudanCasesR12, sudanCasesR16, sudanCasesR20, sudanCasesR24] },
  { name: 'Tanzania', ticks: tanzaniaCasesTicks, ihme: tanzaniaCasesIHME, who: tanzaniaCasesWHO, series: [tanzaniaCasesR12, tanzaniaCasesR16, tanzaniaCasesR20, tanzaniaCasesR24] },
  { name: 'Niger', ticks: nigerCasesTicks, ihme: nigerCasesIHME, who: nigerCasesWHO, series: [nigerCasesR12, nigerCasesR16, nigerCasesR20, nigerCasesR24] },
  { name: 'Somalia', ticks: somaliaCasesTicks, ihme: somaliaCasesIHME, who: somaliaCasesWHO, series: [somaliaCasesR12, somaliaCasesR16, somaliaCasesR20, somaliaCasesR24] },
  { name: 'DR Congo', ticks: drcCasesTicks, ihme: drcCasesIHME, who: drcCasesWHO, series: [drcCasesR12, drcCasesR16, drcCasesR20, drcCasesR24] },
];

const deathsPanels: PanelData[] = [
  { name: 'India', ticks: indiaDeathsTicks, ihme: indiaDeathsIHME, who: null, series: [indiaDeathsR12, indiaDeathsR16, indiaDeathsR20, indiaDeathsR24] },
  { name: 'Nigeria', ticks: nigeriaDeathsTicks, ihme: nigeriaDeathsIHME, who: null, series: [nigeriaDeathsR12, nigeriaDeathsR16, nigeriaDeathsR20, nigeriaDeathsR24] },
  { name: 'Pakistan', ticks: pakistanDeathsTicks, ihme: pakistanDeathsIHME, who: null, series: [pakistanDeathsR12, pakistanDeathsR16, pakistanDeathsR20, pakistanDeathsR24] },
  { name: 'Ethiopia', ticks: ethiopiaDeathsTicks, ihme: ethiopiaDeathsIHME, who: null, series: [ethiopiaDeathsR12, ethiopiaDeathsR16, ethiopiaDeathsR20, ethiopiaDeathsR24] },
  { name: 'Afghanistan', ticks: afghanistanDeathsTicks, ihme: afghanistanDeathsIHME, who: null, series: [afghanistanDeathsR12, afghanistanDeathsR16, afghanistanDeathsR20, afghanistanDeathsR24] },
  { name: 'Sudan', ticks: sudanDeathsTicks, ihme: sudanDeathsIHME, who: null, series: [sudanDeathsR12, sudanDeathsR16, sudanDeathsR20, sudanDeathsR24] },
  { name: 'Tanzania', ticks: tanzaniaDeathsTicks, ihme: tanzaniaDeathsIHME, who: null, series: [tanzaniaDeathsR12, tanzaniaDeathsR16, tanzaniaDeathsR20, tanzaniaDeathsR24] },
  { name: 'Niger', ticks: nigerDeathsTicks, ihme: nigerDeathsIHME, who: null, series: [nigerDeathsR12, nigerDeathsR16, nigerDeathsR20, nigerDeathsR24] },
  { name: 'Somalia', ticks: somaliaDeathsTicks, ihme: somaliaDeathsIHME, who: null, series: [somaliaDeathsR12, somaliaDeathsR16, somaliaDeathsR20, somaliaDeathsR24] },
  { name: 'DR Congo', ticks: drcDeathsTicks, ihme: drcDeathsIHME, who: null, series: [drcDeathsR12, drcDeathsR16, drcDeathsR20, drcDeathsR24] },
];

const STRIP_H = 23.6;
const PLOT_H = 115.8;
const LINE_W = 1.9;
const fmt = d3.format('.2f');
const triPath = d3.symbol().type(d3.symbolTriangle).size(24)() as string;

function Panel({ x, y, w, p }: { x: number; y: number; w: number; p: PanelData }) {
  const top = y + STRIP_H;
  const bottom = top + PLOT_H;
  const xs = d3.scaleLinear().domain([1997.5, 2052.5]).range([x, x + w]);
  const vals: number[] = [];
  p.series.forEach((s) => s.forEach((d) => vals.push(d[1])));
  p.ihme.forEach((d) => vals.push(d[2]));
  if (p.who) p.who.forEach((v) => vals.push(v));
  const m = d3.max(vals) as number;
  const ys = d3.scaleLinear().domain([-0.05 * m, 1.05 * m]).range([bottom, top]);
  const line = d3.line<Pt>().x((d) => xs(d[0])).y((d) => ys(d[1]));
  const step = p.ticks[1] - p.ticks[0];
  const yMinor: number[] = [];
  for (let v = p.ticks[0] - step / 2; v <= 1.05 * m; v += step) {
    if (v >= -0.05 * m) yMinor.push(v);
  }
  return (
    <g>
      <rect x={x} y={top} width={w} height={PLOT_H} fill="#FFFFFF" />
      {xMinor.map((v) => (
        <line key={'xm' + v} x1={xs(v)} x2={xs(v)} y1={top} y2={bottom} stroke="#EBEBEB" strokeWidth={0.6} />
      ))}
      {yMinor.map((v, i) => (
        <line key={'ym' + i} x1={x} x2={x + w} y1={ys(v)} y2={ys(v)} stroke="#EBEBEB" strokeWidth={0.6} />
      ))}
      {xTicks.map((v) => (
        <line key={'xg' + v} x1={xs(v)} x2={xs(v)} y1={top} y2={bottom} stroke="#EBEBEB" strokeWidth={1.1} />
      ))}
      {p.ticks.map((v) => (
        <line key={'yg' + v} x1={x} x2={x + w} y1={ys(v)} y2={ys(v)} stroke="#EBEBEB" strokeWidth={1.1} />
      ))}
      {p.ihme.map((d, i) => (
        <line key={'eb' + i} x1={xs(ihmeYears[i])} x2={xs(ihmeYears[i])} y1={ys(d[1])} y2={ys(d[2])} stroke="#CCCCCC" strokeWidth={1} />
      ))}
      {p.series.map((s, i) => (
        <path key={'s' + i} d={line(s) as string} fill="none" stroke={r0Colors[i]} strokeWidth={LINE_W} strokeOpacity={0.88} strokeLinejoin="round" />
      ))}
      {p.ihme.map((d, i) => (
        <path key={'tr' + i} d={triPath} transform={`translate(${xs(ihmeYears[i])},${ys(d[0])})`} fill="#9E9E9E" />
      ))}
      {p.who &&
        p.who.map((v, i) => <circle key={'w' + i} cx={xs(ihmeYears[i])} cy={ys(v)} r={1.6} fill="#000000" />)}
      <rect x={x} y={top} width={w} height={PLOT_H} fill="none" stroke="#333333" strokeWidth={1} />
      <rect x={x} y={y} width={w} height={STRIP_H} fill="#D9D9D9" stroke="#333333" strokeWidth={1} />
      <text x={x + w / 2} y={y + STRIP_H / 2 + 4.4} textAnchor="middle" fontSize={12.5} fill="#1A1A1A">
        {p.name}
      </text>
      {p.ticks.map((v) => (
        <g key={'yt' + v}>
          <line x1={x - 3.5} x2={x} y1={ys(v)} y2={ys(v)} stroke="#333333" strokeWidth={1} />
          <text x={x - 5.5} y={ys(v) + 3.6} textAnchor="end" fontSize={10.2} fill="#4D4D4D">
            {fmt(v)}
          </text>
        </g>
      ))}
      {xTicks.map((v) => (
        <g key={'xt' + v}>
          <line x1={xs(v)} x2={xs(v)} y1={bottom} y2={bottom + 3.5} stroke="#333333" strokeWidth={1} />
          <text x={xs(v)} y={bottom + 13} textAnchor="middle" fontSize={10.2} fill="#4D4D4D">
            {v}
          </text>
        </g>
      ))}
    </g>
  );
}

const layoutA = { lefts: [47, 281, 516, 743, 972], w: 192.5, rows: [38, 203] };
const layoutB = { lefts: [40, 271.9, 503.8, 735.7, 967.6], w: 197, rows: [420.7, 585.7] };

function Legend() {
  const keyX = 1204;
  const ys = [255, 278, 301, 324];
  return (
    <g>
      <line x1={keyX} x2={keyX} y1={87} y2={113} stroke="#CCCCCC" strokeWidth={1} />
      <path d={triPath} transform={`translate(${keyX},100)`} fill="#9E9E9E" />
      <text x={1219} y={96.5} fontSize={12.5} fill="#1A1A1A">IHME</text>
      <text x={1219} y={112} fontSize={12.5} fill="#1A1A1A">estimates</text>
      <circle cx={keyX} cy={182} r={1.6} fill="#000000" />
      <text x={1219} y={180} fontSize={12.5} fill="#1A1A1A">WHO</text>
      <text x={1219} y={192} fontSize={12.5} fill="#1A1A1A">notifications</text>
      <text x={1188} y={233} fontSize={13} fill="#1A1A1A">
        R<tspan fontSize={9} dy={3}>0</tspan>
      </text>
      {r0Labels.map((l, i) => (
        <g key={l}>
          <line x1={1195} x2={1213} y1={ys[i]} y2={ys[i]} stroke={r0Colors[i]} strokeWidth={LINE_W} strokeOpacity={0.88} />
          <text x={1220} y={ys[i] + 4.3} fontSize={12.5} fill="#1A1A1A">{l}</text>
        </g>
      ))}
    </g>
  );
}

export default function App() {
  return (
    <svg
      width={1295}
      height={758}
      viewBox="0 0 1295 758"
      style={{ position: 'absolute', left: 0, top: 0, background: '#FFFFFF', fontFamily: FONT }}
    >
      <rect x={0} y={0} width={1295} height={758} fill="#FFFFFF" />
      <text x={45} y={28} fontSize={16} fontWeight="bold" fill="#000000">A. Cases (millions)</text>
      {casesPanels.map((p, i) => (
        <Panel key={'a' + i} x={layoutA.lefts[i % 5]} y={layoutA.rows[Math.floor(i / 5)]} w={layoutA.w} p={p} />
      ))}
      <text x={606} y={374} fontSize={16} textAnchor="middle" fill="#000000">Year</text>
      <Legend />
      <text x={40} y={411} fontSize={16} fontWeight="bold" fill="#000000">B. Deaths (millions)</text>
      {deathsPanels.map((p, i) => (
        <Panel key={'b' + i} x={layoutB.lefts[i % 5]} y={layoutB.rows[Math.floor(i / 5)]} w={layoutB.w} p={p} />
      ))}
      <text x={603} y={755} fontSize={16} textAnchor="middle" fill="#000000">Year</text>
    </svg>
  );
}
